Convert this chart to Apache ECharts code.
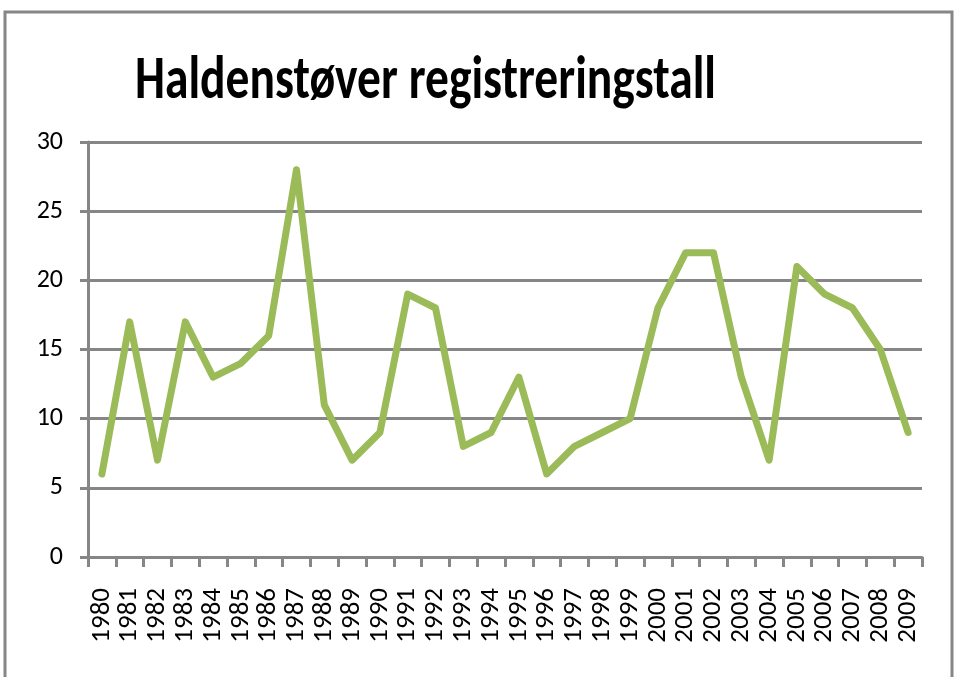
<!DOCTYPE html>
<html>
<head>
<meta charset="utf-8">
<script src="https://cdn.jsdelivr.net/npm/echarts@6/dist/echarts.min.js"></script>
<style>
  html, body { margin: 0; padding: 0; background: #fff; }
  #chart { width: 959px; height: 677px; }
</style>
</head>
<body>
<div id="chart"></div>
<script>
const years = ['1980', '1981', '1982', '1983', '1984', '1985', '1986', '1987', '1988', '1989',
    '1990', '1991', '1992', '1993', '1994', '1995', '1996', '1997', '1998', '1999',
    '2000', '2001', '2002', '2003', '2004', '2005', '2006', '2007', '2008', '2009'];
const registreringer = [6, 17, 7, 17, 13, 14, 16, 28, 11, 7,
    9, 19, 18, 8, 9, 13, 6, 8, 9, 10,
    18, 22, 22, 13, 7, 21, 19, 18, 15, 9];
const yTicks = { min: 0, max: 30, interval: 5 };

const grå = '#868686';
const grønn = '#9BBB59';
const font = 'Carlito, "Liberation Sans Narrow", "Open Sans", sans-serif';

const initGrafikk = () => {
    const myChart = echarts.init(document.getElementById('chart'));
    myChart.setOption({
        animation: false,
        graphic: [{
            type: 'rect',
            shape: { x: 5, y: 12, width: 947, height: 700 },
            style: { fill: 'none', stroke: grå, lineWidth: 3 }
        }, {
            // tittelen er strukket i høyden i originalen
            type: 'text',
            x: 135,
            y: 52,
            scaleY: 1.28,
            style: {
                text: 'Haldenstøver registreringstall',
                font: 'bold 47.5px ' + font,
                fill: '#000',
                textVerticalAlign: 'top'
            }
        }],
        grid: { left: 88, right: 37, top: 142, bottom: 120 },
        xAxis: {
            type: 'category',
            data: years,
            boundaryGap: true,
            axisLine: { lineStyle: { color: grå, width: 3 } },
            axisTick: { show: true, length: 10, lineStyle: { color: grå, width: 3 } },
            axisLabel: { rotate: 90, fontFamily: font, fontSize: 27, color: '#000', margin: 31, interval: 0 }
        },
        yAxis: {
            type: 'value',
            min: yTicks.min,
            max: yTicks.max,
            interval: yTicks.interval,
            axisLine: { show: true, lineStyle: { color: grå, width: 3 } },
            axisTick: { show: true, length: 8, lineStyle: { color: grå, width: 3 } },
            axisLabel: { fontFamily: font, fontSize: 26, color: '#000', margin: 25 },
            splitLine: { lineStyle: { color: grå, width: 3 } }
        },
        series: [{
            type: 'line',
            data: registreringer,
            symbol: 'none',
            lineStyle: { color: grønn, width: 7, join: 'round', cap: 'round' }
        }]
    });
};

window.addEventListener('load', initGrafikk);
</script>
</body>
</html>
